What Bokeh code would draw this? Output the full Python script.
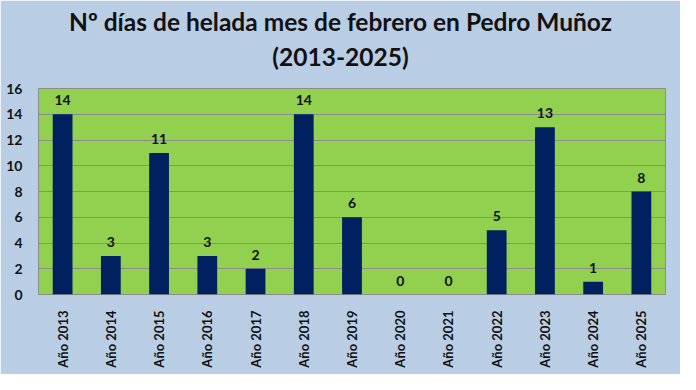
from bokeh.plotting import figure
from bokeh.models import ColumnDataSource, FactorRange, LabelSet, Label
from bokeh.core.properties import value
from bokeh.embed import file_html
from bokeh.resources import INLINE
import math

years = ["Año 2013", "Año 2014", "Año 2015", "Año 2016", "Año 2017", "Año 2018", "Año 2019",
         "Año 2020", "Año 2021", "Año 2022", "Año 2023", "Año 2024", "Año 2025"]
days = [14, 3, 11, 3, 2, 14, 6, 0, 0, 5, 13, 1, 8]
y_ticks = [0, 2, 4, 6, 8, 10, 12, 14, 16]
title_line1 = "Nº días de helada mes de febrero en Pedro Muñoz"
title_line2 = "(2013-2025)"

FONT = "Lato"
BG = "#B9CDE5"

src = ColumnDataSource(dict(x=years, y=days, lab=[str(d) for d in days]))

p = figure(width=680, height=374, x_range=FactorRange(*years, range_padding=0),
           y_range=(0, 16), output_backend="svg", toolbar_location=None,
           min_border_left=38, min_border_right=15, min_border_bottom=80, min_border_top=88)

p.background_fill_color = "#92D050"
p.border_fill_color = BG
p.outline_line_color = "#8C8C8C"
p.outline_line_width = 1
p.title.visible = False

# title lines in the top margin, centred on the whole chart
for txt, yy in ((title_line2, 32), (title_line1, 38)):
    p.add_layout(Label(x=302, y=yy, x_units="screen", y_units="screen", text=txt,
                       text_align="center", text_baseline="middle", text_font=FONT,
                       text_font_style="bold", text_font_size="24.5px",
                       text_color="#111111"), "above")

p.vbar(x="x", top="y", width=0.41, source=src, fill_color="#002060", line_color=None)

labels = LabelSet(x="x", y="y", text="lab", source=src, y_offset=9, text_align="center",
                  text_baseline="bottom", text_font=value(FONT), text_font_style="bold",
                  text_font_size="14px", text_color="#111111")
p.add_layout(labels)

p.xgrid.grid_line_color = None
p.ygrid.grid_line_color = "#8C8C8C"
p.ygrid.grid_line_width = 1
p.yaxis.ticker = y_ticks

for ax in (p.xaxis[0], p.yaxis[0]):
    ax.axis_line_color = None
    ax.major_tick_line_color = None
    ax.minor_tick_line_color = None
    ax.major_label_text_font = FONT
    ax.major_label_text_font_style = "bold"
    ax.major_label_text_color = "#111111"

p.yaxis.major_label_text_font_size = "14px"
p.yaxis.major_label_standoff = 10
p.xaxis.major_label_text_font_size = "13px"
p.xaxis.major_label_orientation = math.pi / 2
p.xaxis.major_label_standoff = 10

open("out.html", "w").write(file_html(p, INLINE))
